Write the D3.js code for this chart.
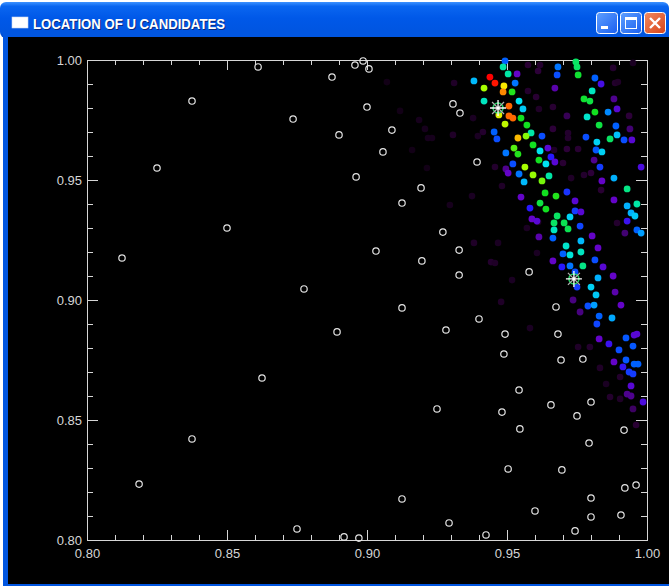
<!DOCTYPE html>
<html>
<head>
<meta charset="utf-8">
<script src="https://cdn.jsdelivr.net/npm/d3@7"></script>
<style>
  body { margin: 0; background: #fff; overflow: hidden; }
  svg text { font-family: "Liberation Sans", Arial, sans-serif; }
</style>
</head>
<body>
<div id="win"></div>
<script>
// white open circles = U candidates
var candX = [0.8611,0.8957,0.9007,0.8875,0.8375,0.8736,0.9000,0.9089,0.8900,0.9057,
  0.8250,0.8961,0.9193,0.9125,0.8500,0.9032,0.9196,0.8125,0.8775,0.9125,
  0.8893,0.8625,0.8375,0.8186,0.9125,0.8750,0.8918,0.8971,0.9307,0.9332,
  0.9393,0.9271,0.9329,0.9329,0.9579,0.9675,0.9400,0.9282,0.9493,0.9682,
  0.9489,0.9693,0.9771,0.9543,0.9250,0.9482,0.9657,0.9800,0.9750,0.9546,
  0.9918,0.9793,0.9504,0.9696,0.9961,0.9921,0.9800,0.9600,0.9800,0.9907,
  0.9293,0.9425,0.9743,0.8986];
var candY = [0.9971,0.9979,0.9963,0.9929,0.9829,0.9754,0.9804,0.9708,0.9688,0.9617,
  0.9550,0.9513,0.9467,0.9404,0.9300,0.9204,0.9163,0.9175,0.9046,0.8967,
  0.8867,0.8675,0.8421,0.8233,0.8171,0.8046,0.8013,0.8008,0.9817,0.9779,
  0.9575,0.9283,0.9208,0.9104,0.9117,0.8971,0.8921,0.8875,0.8858,0.8858,
  0.8775,0.8750,0.8754,0.8625,0.8546,0.8533,0.8563,0.8575,0.8517,0.8463,
  0.8458,0.8404,0.8296,0.8292,0.8229,0.8217,0.8175,0.8121,0.8096,0.8104,
  0.8071,0.8021,0.8038,0.9996];

// coloured points, upper band (value 0..1 -> rainbow)
var upX = [0.9493,0.9486,0.9504,0.9536,0.9382,0.9439,0.9457,0.9529,0.9418,0.9489,
  0.9486,0.9518,0.9418,0.9507,0.9543,0.9557,0.9471,0.9507,0.9521,0.9550,
  0.9493,0.9571,0.9454,0.9464,0.9586,0.9539,0.9568,0.9625,0.9593,0.9525,
  0.9539,0.9496,0.9618,0.9646,0.9682,0.9679,0.9746,0.9750,0.9754,0.9814,
  0.9836,0.9804,0.9775,0.9796,0.9814,0.9861,0.9893,0.9786,0.9829,0.9889,
  0.9782,0.9821,0.9868,0.9893,0.9918,0.9946,0.9818,0.9839,0.9657,0.9671,
  0.9811,0.9671,0.9882,0.9939,0.9714];
var upY = [0.9996,0.9971,0.9942,0.9942,0.9913,0.9929,0.9904,0.9904,0.9883,0.9892,
  0.9867,0.9867,0.9829,0.9808,0.9829,0.9796,0.9771,0.9767,0.9758,0.9758,
  0.9733,0.9729,0.9700,0.9671,0.9696,0.9675,0.9683,0.9683,0.9646,0.9633,
  0.9608,0.9613,0.9621,0.9633,0.9971,0.9938,0.9992,0.9971,0.9938,0.9925,
  0.9900,0.9871,0.9838,0.9829,0.9783,0.9783,0.9796,0.9763,0.9729,0.9725,
  0.9679,0.9658,0.9671,0.9688,0.9667,0.9667,0.9625,0.9617,0.9596,0.9575,
  0.9583,0.9883,0.9838,0.9713,0.9767];
var upV = [0.38,0.58,0.58,0.20,0.47,1.00,0.98,0.40,0.75,0.82,
  0.88,0.67,0.56,0.90,0.52,0.49,0.80,0.90,0.90,0.66,
  0.77,0.66,0.38,0.36,0.58,0.85,0.73,0.36,0.66,0.70,
  0.67,0.40,0.52,0.22,0.40,0.36,0.62,0.62,0.65,0.38,
  0.25,0.56,0.65,0.64,0.66,0.42,0.22,0.55,0.64,0.38,
  0.36,0.50,0.62,0.48,0.36,0.22,0.37,0.50,0.30,0.22,
  0.16,0.18,0.16,0.14,0.12];

// coloured points, lower band
var loX = [0.9521,0.9564,0.9614,0.9639,0.9593,0.9650,0.9543,0.9561,0.9625,0.9496,
  0.9504,0.9832,0.9979,0.9882,0.9839,0.9929,0.9636,0.9675,0.9714,0.9550,
  0.9582,0.9618,0.9639,0.9743,0.9882,0.9929,0.9964,0.9943,0.9957,0.9929,
  0.9964,0.9979,0.9679,0.9725,0.9743,0.9764,0.9589,0.9607,0.9668,0.9704,
  0.9761,0.9668,0.9718,0.9614,0.9664,0.9804,0.9764,0.9711,0.9764,0.9825,
  0.9700,0.9725,0.9814,0.9664,0.9696,0.9725,0.9771,0.9843,0.9743,0.9825,
  0.9879,0.9800,0.9750,0.9818,0.9886,0.9736,0.9761,0.9789,0.9811,0.9907,
  0.9829,0.9875,0.9821,0.9964,0.9954,0.9829,0.9864,0.9925,0.9950,0.9900,
  0.9882,0.9925,0.9954,0.9968,0.9914,0.9936,0.9950,0.9943,0.9929,0.9943,
  0.9986,0.9950,0.9921];
var loY = [0.9567,0.9554,0.9583,0.9567,0.9521,0.9517,0.9525,0.9492,0.9496,0.9546,
  0.9529,0.9554,0.9554,0.9508,0.9496,0.9463,0.9446,0.9433,0.9450,0.9429,
  0.9383,0.9404,0.9379,0.9413,0.9417,0.9392,0.9400,0.9363,0.9350,0.9329,
  0.9292,0.9279,0.9350,0.9346,0.9371,0.9367,0.9338,0.9329,0.9321,0.9321,
  0.9308,0.9292,0.9296,0.9263,0.9258,0.9267,0.9246,0.9225,0.9200,0.9217,
  0.9192,0.9188,0.9167,0.9163,0.9138,0.9142,0.9142,0.9138,0.9117,0.9092,
  0.9100,0.9054,0.9054,0.9021,0.9033,0.9000,0.8950,0.8975,0.8979,0.8979,
  0.8933,0.8925,0.8900,0.8858,0.8854,0.8838,0.8817,0.8842,0.8808,0.8792,
  0.8742,0.8750,0.8733,0.8733,0.8721,0.8700,0.8692,0.8642,0.8608,0.8600,
  0.8575,0.8546,0.9279];
var loV = [0.36,0.75,0.66,0.52,0.74,0.58,0.40,0.47,0.72,0.16,
  0.20,0.34,0.24,0.46,0.20,0.60,0.66,0.67,0.33,0.20,
  0.30,0.64,0.66,0.22,0.20,0.46,0.58,0.46,0.49,0.27,
  0.38,0.44,0.62,0.50,0.34,0.22,0.20,0.22,0.62,0.63,
  0.35,0.56,0.63,0.18,0.38,0.20,0.47,0.55,0.56,0.20,
  0.38,0.54,0.36,0.20,0.30,0.40,0.60,0.22,0.36,0.46,
  0.20,0.50,0.34,0.49,0.18,0.15,0.15,0.36,0.44,0.20,
  0.38,0.45,0.35,0.22,0.22,0.20,0.27,0.37,0.37,0.36,
  0.20,0.37,0.38,0.38,0.28,0.34,0.34,0.22,0.16,0.16,
  0.24,0.13,0.14];

// faint (low value) points
var dimX = [0.9311,0.9379,0.9414,0.9232,0.9307,0.9396,0.9457,0.9482,0.9575,0.9618,
  0.9611,0.9575,0.9604,0.9614,0.9664,0.9718,0.9700,0.9668,0.9714,0.9754,
  0.9775,0.9800,0.9729,0.9836,0.9886,0.9936,0.9896,0.9879,0.9950,0.9375,
  0.9296,0.9382,0.9468,0.9443,0.9457,0.9518,0.9479,0.9582,0.9796,0.9832,
  0.9904,0.9611,0.9571,0.9607,0.9893,0.9754,0.9868,0.9854,0.9904,0.9961,
  0.9071,0.9118,0.9186,0.9207,0.9218,0.9161,0.9214,0.9664,0.9718];
var dimY = [0.9904,0.9758,0.9700,0.9675,0.9688,0.9683,0.9554,0.9475,0.9979,0.9979,
  0.9954,0.9871,0.9846,0.9796,0.9713,0.9696,0.9571,0.9625,0.9629,0.9629,
  0.9521,0.9529,0.9508,0.9458,0.9904,0.9767,0.9908,0.9967,0.9988,0.9433,
  0.9396,0.9238,0.9238,0.9158,0.9154,0.9083,0.8992,0.8883,0.8804,0.8717,
  0.8679,0.9325,0.9300,0.9196,0.9321,0.8804,0.8596,0.8650,0.8588,0.8479,
  0.9908,0.9788,0.9750,0.9713,0.9675,0.9625,0.9550,0.9804,0.9675];
var dimV = [0.07,0.06,0.08,0.05,0.07,0.06,0.08,0.07,0.09,0.08,
  0.10,0.08,0.09,0.07,0.10,0.08,0.09,0.07,0.10,0.09,
  0.08,0.10,0.07,0.09,0.08,0.10,0.07,0.08,0.06,0.06,
  0.05,0.07,0.06,0.08,0.07,0.06,0.07,0.06,0.08,0.07,
  0.08,0.07,0.06,0.06,0.08,0.07,0.08,0.06,0.07,0.09,
  0.04,0.04,0.05,0.05,0.05,0.04,0.04,0.09,0.08];

// asterisks
var starX = [0.9468, 0.9739];
var starY = [0.9800, 0.9088];

var xMajor = [0.80, 0.85, 0.90, 0.95, 1.00];
var yMajor = [0.80, 0.85, 0.90, 0.95, 1.00];
var tickLabels = ["0.80", "0.85", "0.90", "0.95", "1.00"];

var W = 669, H = 586;
var axisCol = "#d6d6d6";

var svg = d3.select("#win").append("svg")
    .attr("width", W).attr("height", H);

// ---- window chrome (XP style) ----
var defs = svg.append("defs");
var tg = defs.append("linearGradient").attr("id", "titleGrad")
    .attr("x1", 0).attr("y1", 0).attr("x2", 0).attr("y2", 1);
[[0, "#3d92ff"], [0.12, "#0a66f0"], [0.45, "#0058e8"], [0.85, "#0055e0"], [1, "#0046c4"]]
  .forEach(function(s){ tg.append("stop").attr("offset", s[0]).attr("stop-color", s[1]); });
var bg = defs.append("linearGradient").attr("id", "btnGrad")
    .attr("x1", 0).attr("y1", 0).attr("x2", 1).attr("y2", 1);
bg.append("stop").attr("offset", 0).attr("stop-color", "#5fa0ff");
bg.append("stop").attr("offset", 1).attr("stop-color", "#1a5ff0");
var cg = defs.append("linearGradient").attr("id", "closeGrad")
    .attr("x1", 0).attr("y1", 0).attr("x2", 1).attr("y2", 1);
cg.append("stop").attr("offset", 0).attr("stop-color", "#f08a60");
cg.append("stop").attr("offset", 1).attr("stop-color", "#d8431a");

svg.append("rect").attr("x", 0).attr("y", 2).attr("width", W).attr("height", 36)
    .attr("rx", 6).attr("fill", "url(#titleGrad)");
svg.append("rect").attr("x", 3).attr("y", 30).attr("width", W - 3).attr("height", H - 30)
    .attr("fill", "#0055e0");
svg.append("rect").attr("x", 8).attr("y", 37).attr("width", W - 8).attr("height", 547)
    .attr("fill", "#000");

// title icon + text
svg.append("rect").attr("x", 12).attr("y", 17).attr("width", 16).attr("height", 11)
    .attr("fill", "#fff").attr("stroke", "#c8d8f0").attr("stroke-width", 0.6);
svg.append("text").attr("x", 34).attr("y", 29.5)
    .attr("fill", "#0a2a80").attr("font-size", 14.5).attr("font-weight", "bold")
    .attr("textLength", 192).attr("lengthAdjust", "spacingAndGlyphs")
    .text("LOCATION OF U CANDIDATES");
svg.append("text").attr("x", 33).attr("y", 28.5)
    .attr("fill", "#fff").attr("font-size", 14.5).attr("font-weight", "bold")
    .attr("textLength", 192).attr("lengthAdjust", "spacingAndGlyphs")
    .text("LOCATION OF U CANDIDATES");

// caption buttons
var btnX = [596, 620, 644];
btnX.forEach(function(bx, i){
  svg.append("rect").attr("x", bx + 0.5).attr("y", 12.5).attr("width", 21).attr("height", 21)
      .attr("rx", 3).attr("fill", i == 2 ? "url(#closeGrad)" : "url(#btnGrad)")
      .attr("stroke", "#fff").attr("stroke-width", 1);
});
svg.append("rect").attr("x", 601).attr("y", 26).attr("width", 7).attr("height", 3).attr("fill", "#fff");
svg.append("rect").attr("x", 625.5).attr("y", 17.5).attr("width", 11).attr("height", 11)
    .attr("fill", "none").attr("stroke", "#fff").attr("stroke-width", 1);
svg.append("rect").attr("x", 625).attr("y", 17).attr("width", 12).attr("height", 3).attr("fill", "#fff");
svg.append("path").attr("d", "M650,18 L660,28 M660,18 L650,28")
    .attr("stroke", "#fff").attr("stroke-width", 2.4);

// ---- plot ----
var x = d3.scaleLinear().domain([0.8, 1.0]).range([87, 647]);
var y = d3.scaleLinear().domain([0.8, 1.0]).range([540, 60]);
var minor = d3.range(0.8, 1.0001, 0.01);

var color = d3.scaleLinear()
    .domain([0, 0.1, 0.2, 0.3, 0.38, 0.45, 0.52, 0.58, 0.66, 0.75, 0.82, 0.9, 1.0])
    .range(["#000000", "#2c0038", "#6404c8", "#2818ff", "#0060ff", "#00a8ff", "#00e2f0",
            "#00e6a6", "#12e020", "#a8ff00", "#f8ea00", "#ff6800", "#ff0000"])
    .clamp(true);

function styleAxis(g) {
  g.selectAll("path, line").attr("stroke", axisCol).attr("stroke-width", 1);
  g.select(".domain").attr("stroke", axisCol);
  g.selectAll("text").attr("fill", axisCol).attr("font-size", 13)
      .attr("font-family", "Liberation Sans, Arial, sans-serif");
}

// bottom
svg.append("g").attr("transform", "translate(0,540)")
  .call(d3.axisBottom(x).tickValues(xMajor).tickSizeInner(-10).tickSizeOuter(0)
        .tickPadding(9).tickFormat(function(d, i){ return tickLabels[i]; }))
  .call(styleAxis);
svg.append("g").attr("transform", "translate(0,540)")
  .call(d3.axisBottom(x).tickValues(minor).tickSize(-5).tickFormat(""))
  .call(styleAxis);
// top
svg.append("g").attr("transform", "translate(0,60)")
  .call(d3.axisTop(x).tickValues(xMajor).tickSizeInner(-10).tickSizeOuter(0).tickFormat(""))
  .call(styleAxis);
svg.append("g").attr("transform", "translate(0,60)")
  .call(d3.axisTop(x).tickValues(minor).tickSize(-5).tickFormat(""))
  .call(styleAxis);
// left
svg.append("g").attr("transform", "translate(87,0)")
  .call(d3.axisLeft(y).tickValues(yMajor).tickSizeInner(-11).tickSizeOuter(0)
        .tickPadding(5).tickFormat(function(d, i){ return tickLabels[i]; }))
  .call(styleAxis);
svg.append("g").attr("transform", "translate(87,0)")
  .call(d3.axisLeft(y).tickValues(minor).tickSize(-6).tickFormat(""))
  .call(styleAxis);
// right
svg.append("g").attr("transform", "translate(647,0)")
  .call(d3.axisRight(y).tickValues(yMajor).tickSizeInner(-11).tickSizeOuter(0).tickFormat(""))
  .call(styleAxis);
svg.append("g").attr("transform", "translate(647,0)")
  .call(d3.axisRight(y).tickValues(minor).tickSize(-6).tickFormat(""))
  .call(styleAxis);

// faint points first, then coloured
svg.append("g").selectAll("circle")
  .data(dimX.map(function(d, i){ return {x: d, y: dimY[i], v: dimV[i]}; }))
  .enter().append("circle")
    .attr("cx", function(d){ return x(d.x); })
    .attr("cy", function(d){ return y(d.y); })
    .attr("r", 3.3)
    .attr("fill", function(d){ return color(d.v); });

var colPts = upX.map(function(d, i){ return {x: d, y: upY[i], v: upV[i]}; })
  .concat(loX.map(function(d, i){ return {x: d, y: loY[i], v: loV[i]}; }));
svg.append("g").selectAll("circle")
  .data(colPts)
  .enter().append("circle")
    .attr("cx", function(d){ return x(d.x); })
    .attr("cy", function(d){ return y(d.y); })
    .attr("r", 3.4)
    .attr("fill", function(d){ return color(d.v); });

// candidates
svg.append("g").selectAll("circle")
  .data(candX.map(function(d, i){ return {x: d, y: candY[i]}; }))
  .enter().append("circle")
    .attr("cx", function(d){ return x(d.x); })
    .attr("cy", function(d){ return y(d.y); })
    .attr("r", 3.2)
    .attr("fill", "none")
    .attr("stroke", "#e4e4e4")
    .attr("stroke-width", 1.2);

// asterisks
var stars = svg.append("g").selectAll("g")
  .data(starX.map(function(d, i){ return {x: d, y: starY[i]}; }))
  .enter().append("g")
    .attr("transform", function(d){ return "translate(" + x(d.x) + "," + y(d.y) + ")"; });
stars.append("circle").attr("r", 5).attr("fill", "none")
    .attr("stroke", "#20d060").attr("stroke-width", 1.5);
stars.append("path").attr("d", "M-6,-6L6,6M-6,6L6,-6")
    .attr("stroke", "#b0b0b0").attr("stroke-width", 1.2);
stars.append("path").attr("d", "M-8,0L8,0M0,-8L0,8")
    .attr("stroke", "#ffffff").attr("stroke-width", 1.3);
stars.append("circle").attr("r", 1.6).attr("fill", "#fff");
</script>
</body>
</html>
